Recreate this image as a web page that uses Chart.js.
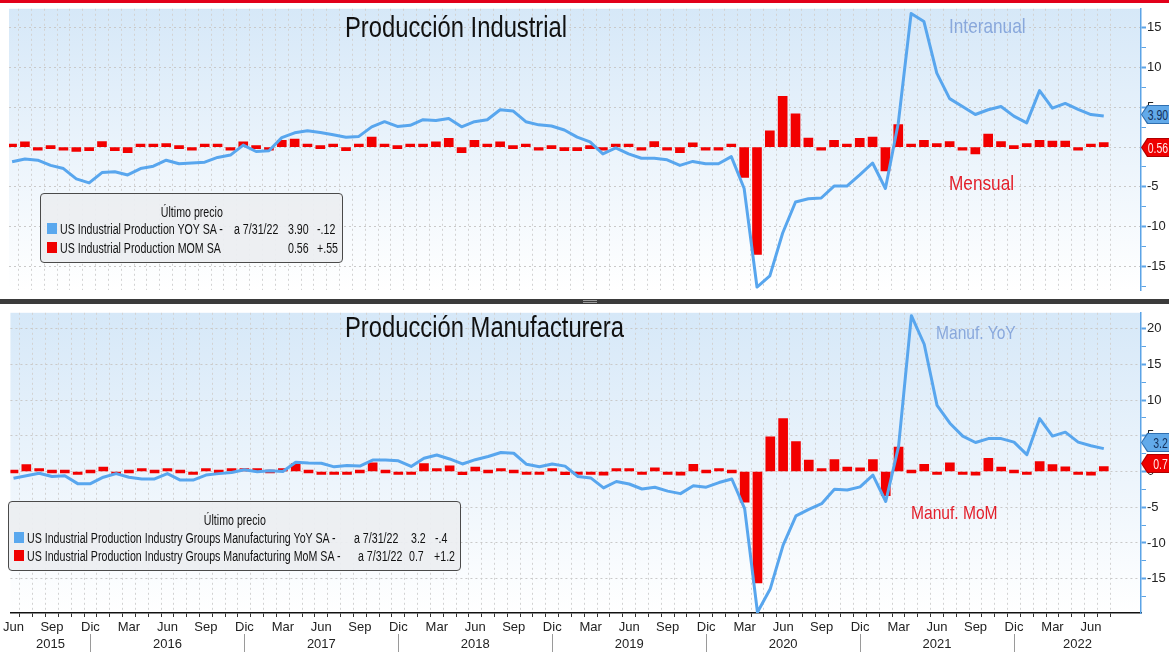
<!DOCTYPE html>
<html>
<head>
<meta charset="utf-8">
<script src="https://cdn.jsdelivr.net/npm/chart.js@4.4.0/dist/chart.umd.min.js"></script>
<style>
html, body { margin: 0; padding: 0; background: #fff; }
body { width: 1169px; height: 652px; position: relative; overflow: hidden;
       font-family: "Liberation Sans", Arial, sans-serif; }
canvas { position: absolute; left: 0; display: block; }
#topChart { top: 0; }
#botChart { top: 304px; }
.redband { position: absolute; left: 0; top: 0; width: 1169px; height: 3px; background: #e2001a; }
.sep { position: absolute; left: 0; top: 299px; width: 1169px; height: 5px; background: #3b3b3b; }
.grip { position: absolute; left: 583px; top: 300px; width: 14px; height: 1px; border-top: 1px solid #9a9a9a; border-bottom: 1px solid #9a9a9a; }
.cx { display: inline-block; transform: scaleX(0.82); transform-origin: 0 50%; }
.title { position: absolute; left: 345px; font-size: 29px; color: #111; white-space: nowrap; line-height: 1; }
.note { position: absolute; font-size: 20px; white-space: nowrap; line-height: 1; }
.blue { color: #89a8dc; }
.red { color: #e3202b; }
.legend { position: absolute; background: rgba(236, 238, 241, 0.93); border: 1px solid #4a4a4a; border-radius: 4px;
          font-size: 14px; color: #111; }
.legend span { position: absolute; white-space: nowrap; line-height: 1; }
.legend .cx { transform: scaleX(0.76); }
.legend .sw { width: 10px; height: 11px; }
.legend .hd { left: 0; right: 0; text-align: center; }
.legend .hd i { font-style: normal; display: inline-block; transform: scaleX(0.76); }
.badge { position: absolute; left: 1141px; width: 28px; clip-path: polygon(6px 0, 100% 0, 100% 100%, 6px 100%, 0 50%); }
.badge div { position: absolute; left: 1px; top: 1px; right: 0; bottom: 1px; font-size: 15px;
             clip-path: polygon(6px 0, 100% 0, 100% 100%, 6px 100%, 0 50%); }
.badge i { position: absolute; right: 1px; top: 0; white-space: nowrap; font-style: normal;
           transform: scaleX(0.7); transform-origin: 100% 50%; }
</style>
</head>
<body>
<canvas id="topChart" width="1169" height="299"></canvas>
<canvas id="botChart" width="1169" height="348"></canvas>

<div class="redband"></div>
<div class="sep"></div>
<div class="grip"></div>

<div class="title" style="top:13px"><span class="cx">Producción Industrial</span></div>
<div class="title" style="top:313px"><span class="cx">Producción Manufacturera</span></div>

<div class="note blue" style="left:949px; top:15px; font-size:21px"><span class="cx">Interanual</span></div>
<div class="note red" style="left:949px; top:172px; font-size:21px"><span class="cx">Mensual</span></div>
<div class="note blue" style="left:936px; top:323px; font-size:19px"><span class="cx">Manuf. YoY</span></div>
<div class="note red" style="left:911px; top:503px; font-size:19px"><span class="cx">Manuf. MoM</span></div>

<div class="legend" style="left:40px; top:193px; width:301px; height:68px">
  <span class="hd" style="top:11px"><i>Último precio</i></span>
  <span class="sw" style="left:6px; top:29px; background:#5aa8ee"></span>
  <span class="cx" style="left:19px; top:28px">US Industrial Production YOY SA -</span>
  <span class="cx" style="left:193px; top:28px">a 7/31/22</span>
  <span class="cx" style="left:247px; top:28px">3.90</span>
  <span class="cx" style="left:276px; top:28px">-.12</span>
  <span class="sw" style="left:6px; top:48px; background:#f00000"></span>
  <span class="cx" style="left:19px; top:47px">US Industrial Production MOM SA</span>
  <span class="cx" style="left:247px; top:47px">0.56</span>
  <span class="cx" style="left:276px; top:47px">+.55</span>
</div>

<div class="legend" style="left:8px; top:501px; width:451px; height:68px">
  <span class="hd" style="top:11px"><i>Último precio</i></span>
  <span class="sw" style="left:5px; top:30px; background:#5aa8ee"></span>
  <span class="cx" style="left:18px; top:29px">US Industrial Production Industry Groups Manufacturing YoY SA -</span>
  <span class="cx" style="left:345px; top:29px">a 7/31/22</span>
  <span class="cx" style="left:402px; top:29px">3.2</span>
  <span class="cx" style="left:426px; top:29px">-.4</span>
  <span class="sw" style="left:5px; top:48px; background:#f00000"></span>
  <span class="cx" style="left:18px; top:47px">US Industrial Production Industry Groups Manufacturing MoM SA -</span>
  <span class="cx" style="left:349px; top:47px">a 7/31/22</span>
  <span class="cx" style="left:400px; top:47px">0.7</span>
  <span class="cx" style="left:425px; top:47px">+1.2</span>
</div>

<div class="badge" style="top:105px; height:19px; background:#2f6fb0"><div style="background:#62aaea; color:#14305a; line-height:17px"><i>3.90</i></div></div>
<div class="badge" style="top:138px; height:19px; background:#b00000"><div style="background:#ee0000; color:#ffe8e8; line-height:17px"><i>0.56</i></div></div>
<div class="badge" style="top:433px; height:19px; background:#2f6fb0"><div style="background:#62aaea; color:#14305a; line-height:17px"><i>3.2</i></div></div>
<div class="badge" style="top:454px; height:19px; background:#b00000"><div style="background:#ee0000; color:#ffe8e8; line-height:17px"><i>0.7</i></div></div>

<script>
// meses: índice 0 = Jun 2015, último = Jul 2022
const monthNames = ['Jun', 'Jul', 'Ago', 'Sep', 'Oct', 'Nov', 'Dic', 'Ene', 'Feb', 'Mar', 'Abr', 'May'];
const axisMonths = ['Jun', 'Sep', 'Dic', 'Mar'];
const years = ['2015', '2016', '2017', '2018', '2019', '2020', '2021', '2022'];

// Producción industrial, interanual (%)
const ipYoY = [
  -1.85, -1.5, -1.65, -2.3, -2.7, -4.0, -4.5,
  -3.2, -3.1, -3.5, -2.7, -2.4, -1.65, -2.1, -2.0, -1.9, -1.3, -1.0, 0.25,
  -0.55, -0.45, 1.2, 1.8, 2.05, 1.85, 1.55, 1.25, 1.35, 2.55, 3.2, 2.6,
  2.75, 3.45, 3.35, 3.6, 2.55, 3.2, 3.45, 4.7, 4.55, 3.2, 2.8, 2.65,
  2.15, 1.25, 0.65, -0.85, -0.1, -0.85, -1.4, -1.4, -1.6, -2.3, -1.8, -2.1,
  -2.1, -1.2, -5.2, -17.6, -16.2, -10.8, -6.9, -6.5, -6.4, -4.9, -4.9, -3.5,
  -2.0, -5.2, 3.0, 16.8, 15.8, 9.3, 6.1, 5.1, 4.1, 4.7, 5.1, 3.9,
  3.05, 7.1, 4.9, 5.5, 4.75, 4.1, 3.9
];
// Producción industrial, mensual (%)
const ipMoM = [
  0.05, 0.65, -0.05, 0.0, -0.05, -0.55, -0.45,
  0.7, -0.45, -0.7, 0.15, 0.1, 0.45, 0.0, -0.05, 0.1, 0.05, -0.35, 0.65,
  0.0, -0.05, 0.85, 1.0, 0.05, 0.0, 0.1, -0.45, 0.1, 1.25, 0.05, 0.0,
  0.05, 0.15, 0.65, 1.1, -0.7, 0.85, 0.15, 0.65, 0.0, 0.05, -0.05, 0.0,
  -0.45, -0.45, 0.0, -0.35, 0.15, 0.05, -0.05, 0.7, -0.2, -0.7, 0.55, -0.3,
  -0.3, 0.3, -3.8, -13.5, 2.05, 6.4, 4.2, 1.15, -0.1, 0.85, 0.3, 1.1,
  1.25, -3.0, 2.85, 0.1, 0.85, 0.45, 0.7, -0.05, -0.85, 1.65, 0.7, 0.0,
  0.45, 0.85, 0.75, 0.75, -0.05, 0.01, 0.56
];
// Manufacturas, interanual (%)
const mfgYoY = [
  -0.95, -0.6, -0.25, -0.7, -0.6, -1.7, -1.7,
  -0.8, -0.3, -0.8, -1.05, -1.05, -0.3, -1.2, -1.2, -0.5, -0.3, -0.15, 0.25,
  -0.05, 0.1, 0.0, 1.3, 1.2, 1.15, 0.65, 0.85, 0.75, 1.6, 1.6, 1.5,
  0.7, 1.85, 2.3, 1.75, 1.05, 1.65, 2.1, 2.65, 2.55, 1.0, 0.65, 1.05,
  0.75, -0.7, -0.9, -2.3, -1.4, -1.75, -2.45, -2.2, -2.75, -3.1, -2.0, -2.2,
  -1.55, -1.05, -5.2, -19.7, -16.4, -10.3, -6.2, -5.3, -4.5, -2.5, -2.6, -2.15,
  -0.5, -4.2, 3.5, 21.8, 17.8, 9.25, 6.75, 4.95, 4.05, 4.6, 4.6, 4.1,
  2.35, 7.4, 4.95, 5.5, 4.1, 3.6, 3.2
];
// Manufacturas, mensual (%)
const mfgMoM = [
  0.0, 0.95, 0.1, 0.0, 0.0, -0.05, 0.0,
  0.6, -0.1, 0.0, 0.05, 0.0, 0.25, 0.0, -0.25, 0.05, 0.0, 0.05, 0.1,
  0.4, 0.0, 0.05, 1.1, 0.0, -0.15, -0.15, -0.1, 0.0, 1.2, 0.0, -0.1,
  -0.3, 1.1, 0.05, 0.8, -0.45, 0.6, 0.0, 0.05, 0.0, -0.3, -0.3, 0.05,
  -0.45, -0.4, -0.35, -0.5, 0.05, 0.1, -0.2, 0.5, -0.35, -0.5, 1.0, 0.0,
  0.05, 0.0, -4.3, -15.6, 4.85, 7.4, 4.2, 1.6, 0.05, 1.65, 0.6, 0.5,
  1.65, -3.4, 3.4, 0.0, 1.0, -0.05, 1.2, -0.1, -0.5, 1.85, 0.6, 0.0,
  -0.1, 1.4, 0.95, 0.65, -0.2, -0.5, 0.7
];

const ipTicks = [15, 10, 5, 0, -5, -10, -15];
const mfgTicks = [20, 15, 10, 5, 0, -5, -10, -15];

const FONT = '"Liberation Sans", Arial, sans-serif';
Chart.defaults.font.family = FONT;
Chart.defaults.font.size = 13;
Chart.defaults.color = '#222';

// fondo degradado del panel
const panelBg = {
  id: 'panelBg',
  beforeDraw(chart) {
    const { ctx, chartArea: a } = chart;
    const g = ctx.createLinearGradient(0, a.top, 0, a.bottom);
    g.addColorStop(0, '#d6e8f8');
    g.addColorStop(1, '#ffffff');
    ctx.save();
    ctx.fillStyle = g;
    ctx.fillRect(a.left, a.top, a.right - a.left, a.bottom - a.top);
    ctx.restore();
  }
};

// fila de años bajo el eje
const yearRow = {
  id: 'yearRow',
  afterDraw(chart) {
    const { ctx, chartArea: a, scales: { x } } = chart;
    const decs = [];
    ipYoY.forEach((v, i) => { if (monthNames[i % 12] === 'Dic') decs.push(i); });
    const edges = [a.left].concat(decs.map(i => x.getPixelForValue(i)), [a.right]);
    ctx.save();
    ctx.strokeStyle = '#9a9a9a';
    ctx.lineWidth = 1;
    decs.forEach(i => {
      const px = Math.round(x.getPixelForValue(i)) + 0.5;
      ctx.beginPath();
      ctx.moveTo(px, a.bottom + 21);
      ctx.lineTo(px, chart.height);
      ctx.stroke();
    });
    ctx.font = '13px ' + FONT;
    ctx.fillStyle = '#222';
    ctx.textAlign = 'center';
    ctx.textBaseline = 'middle';
    years.forEach((y, k) => ctx.fillText(y, (edges[k] + edges[k + 1]) / 2, a.bottom + 31));
    ctx.restore();
  }
};

function makeChart(id, yoy, mom, yMin, yMax, labelled, showX) {
  const yTicks = [];
  for (let v = Math.ceil(yMin / 2.5) * 2.5; v <= yMax; v += 2.5) yTicks.push(v);

  return new Chart(document.getElementById(id), {
    type: 'bar',
    data: {
      datasets: [
        {
          type: 'line',
          data: yoy.map((v, i) => ({ x: i, y: v })),
          borderColor: '#58a6ee',
          borderWidth: 3,
          pointRadius: 0,
          tension: 0,
          borderJoinStyle: 'round',
          order: 1
        },
        {
          type: 'bar',
          data: mom.map((v, i) => ({ x: i, y: v })),
          backgroundColor: '#f20000',
          barThickness: 9,
          minBarLength: 3,
          order: 2
        }
      ]
    },
    options: {
      responsive: false,
      animation: false,
      devicePixelRatio: 1,
      layout: { padding: showX ? { left: 9, right: 0, top: 0, bottom: 0 } : { left: 9, right: 0, top: 3, bottom: 2 } },
      plugins: { legend: { display: false }, tooltip: { enabled: false } },
      scales: {
        x: {
          type: 'linear',
          min: -0.24,
          max: 87.9,
          offset: false,
          afterBuildTicks: s => { s.ticks = yoy.map((v, i) => ({ value: i })); },
          afterFit: s => { s.height = showX ? 39 : 0; },
          grid: { color: '#d2d2d2', lineWidth: 1, drawTicks: showX, tickLength: 4, tickColor: '#333', tickBorderDash: [] },
          border: { display: showX, color: '#111', width: 1.5, dash: [2, 3] },
          ticks: {
            display: showX,
            autoSkip: false,
            maxRotation: 0,
            padding: 3,
            color: '#222',
            font: { size: 13 },
            callback: v => (axisMonths.includes(monthNames[v % 12]) ? monthNames[v % 12] : '')
          }
        },
        y: {
          type: 'linear',
          position: 'right',
          min: yMin,
          max: yMax,
          afterBuildTicks: s => { s.ticks = yTicks.map(v => ({ value: v })); },
          afterFit: s => { s.width = 28; },
          grid: {
            color: c => (c.tick && labelled.includes(c.tick.value) ? '#c9c9c9' : 'rgba(0,0,0,0)'),
            drawTicks: true,
            tickLength: 5,
            tickColor: '#5ba3e6',
            tickWidth: c => (c.tick && labelled.includes(c.tick.value) ? 2 : 1),
            tickBorderDash: []
          },
          border: { color: '#5ba3e6', width: 1.5, dash: [2, 3] },
          ticks: {
            padding: 1,
            color: '#222',
            font: { size: 13 },
            callback: v => (labelled.includes(v) ? String(v) : '')
          }
        }
      }
    },
    plugins: showX ? [panelBg, yearRow] : [panelBg]
  });
}

makeChart('topChart', ipYoY, ipMoM, -18.0, 17.4, ipTicks, false);
makeChart('botChart', mfgYoY, mfgMoM, -19.8, 22.2, mfgTicks, true);
</script>
</body>
</html>
